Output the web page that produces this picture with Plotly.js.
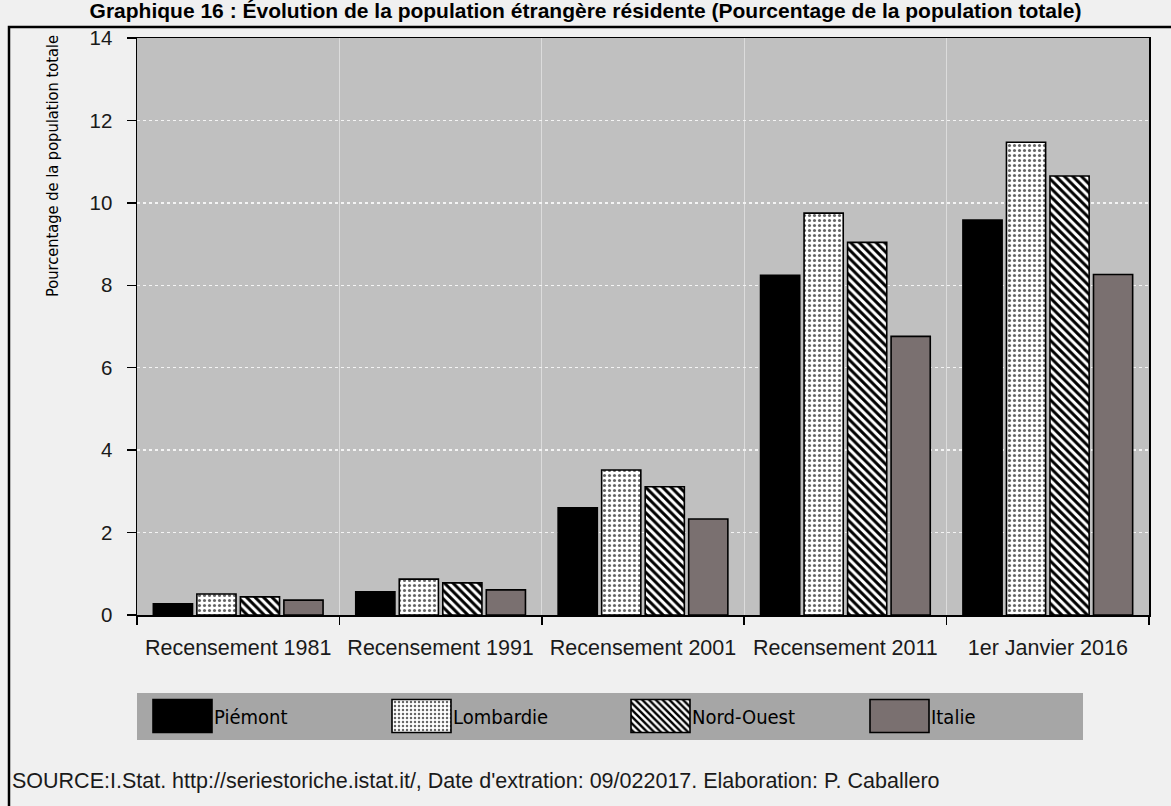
<!DOCTYPE html>
<html><head><meta charset="utf-8">
<script src="https://cdn.plot.ly/plotly-3.0.1.min.js"></script>
<style>html,body{margin:0;padding:0;background:#f0f0f0;overflow:hidden}</style>
</head><body><div id="chart" style="width:1171px;height:806px"></div>
<script>
const categories = ['Recensement 1981','Recensement 1991','Recensement 2001','Recensement 2011','1er Janvier 2016'];
const seriesNames = ['Piémont','Lombardie','Nord-Ouest','Italie'];
const piemont   = [0.27, 0.56, 2.60, 8.24, 9.58];
const lombardie = [0.51, 0.87, 3.52, 9.75, 11.47];
const nordOuest = [0.44, 0.78, 3.11, 9.04, 10.65];
const italie    = [0.36, 0.61, 2.33, 6.76, 8.26];
const yTicks = [0, 2, 4, 6, 8, 10, 12, 14];
const titleText = 'Graphique 16 : Évolution de la population étrangère résidente (Pourcentage de la population totale)';
const yTitleText = 'Pourcentage de la population totale';
const sourceText = "SOURCE:I.Stat. http://seriestoriche.istat.it/, Date d'extration: 09/022017. Elaboration: P. Caballero";

const outline = {color: '#000', width: 1.6};
const traces = [
  {type: 'bar', name: seriesNames[0], x: categories, y: piemont,
   marker: {color: '#000000', line: outline}},
  {type: 'bar', name: seriesNames[1], x: categories, y: lombardie,
   marker: {color: '#ffffff', line: outline,
     pattern: {shape: '.', fgcolor: '#666666', bgcolor: '#ffffff', size: 5, solidity: 0.3, fillmode: 'replace'}}},
  {type: 'bar', name: seriesNames[2], x: categories, y: nordOuest,
   marker: {color: '#ffffff', line: outline,
     pattern: {shape: '\\', fgcolor: '#000000', bgcolor: '#ffffff', size: 6, solidity: 0.5, fillmode: 'replace'}}},
  {type: 'bar', name: seriesNames[3], x: categories, y: italie,
   marker: {color: '#7a7070', line: outline}}
];

const W = 1171, H = 806, L = 137, R = 22, T = 38, B = 191;
const pw = W - L - R, ph = H - T - B;
const px = v => (v - L) / pw;
const py = v => (H - B - v) / ph;

const narrow = 'DejaVu Sans Condensed, Liberation Sans Narrow, Arial Narrow, Arial, sans-serif';
const arial = 'Arial, Liberation Sans, sans-serif';

const layout = {
  width: W, height: H,
  margin: {l: L, r: R, t: T, b: B, pad: 0},
  paper_bgcolor: '#f0f0f0',
  plot_bgcolor: '#c0c0c0',
  barmode: 'group',
  bargap: 0.14,
  bargroupgap: 0.1,
  showlegend: true,
  title: {text: '<b>' + titleText + '</b>', x: 0.5, xanchor: 'center', xref: 'container',
          y: 1 - 3 / H, yanchor: 'top', yref: 'container',
          font: {family: arial, size: 21, color: '#000'}},
  xaxis: {
    type: 'category', tickson: 'boundaries', ticks: 'outside', ticklen: 8, tickwidth: 1.5, tickcolor: '#000',
    showline: true, linecolor: '#000', linewidth: 1.5, mirror: true,
    showgrid: true, gridcolor: '#dcdcdc', gridwidth: 1.2,
    ticklabelstandoff: 13,
    tickfont: {family: arial, size: 21.5, color: '#1a1a1a'}
  },
  yaxis: {
    range: [0, 14], tickvals: yTicks, ticktext: yTicks.map(String),
    ticks: 'outside', ticklen: 9, tickwidth: 1.5, tickcolor: '#000',
    showline: true, linecolor: '#000', linewidth: 1.5, mirror: true,
    showgrid: true, gridcolor: '#f4f4f4', gridwidth: 1.5, griddash: 'dot', zeroline: false,
    ticklabelstandoff: 10,
    tickfont: {family: arial, size: 20.5, color: '#1a1a1a'}
  },
  legend: {
    orientation: 'h', x: px(174), xanchor: 'left', y: py(716), yanchor: 'middle',
    bgcolor: 'rgba(0,0,0,0)', borderwidth: 0,
    entrywidth: 194, entrywidthmode: 'pixels',
    font: {family: narrow, size: 20, color: '#000'}
  },
  shapes: [
    {type: 'rect', xref: 'paper', yref: 'paper', x0: 0, x1: px(1083), y0: py(740), y1: py(693),
     fillcolor: '#a6a6a6', line: {width: 0}, layer: 'below'},
    {type: 'rect', xref: 'paper', yref: 'paper', x0: px(9), x1: px(1190), y0: py(830), y1: py(27),
     fillcolor: 'rgba(0,0,0,0)', line: {color: '#000', width: 2.5}, layer: 'below'}
  ],
  annotations: [
    {text: yTitleText, xref: 'paper', yref: 'paper', x: px(52), y: py(166), xanchor: 'center', yanchor: 'middle',
     textangle: -90, showarrow: false, font: {family: narrow, size: 16.3, color: '#000'}},
    {text: sourceText, xref: 'paper', yref: 'paper', x: px(10), y: py(781), xanchor: 'left', yanchor: 'middle',
     showarrow: false, font: {family: arial, size: 21.5, color: '#1a1a1a'}}
  ]
};

Plotly.newPlot('chart', traces, layout, {displayModeBar: false, staticPlot: true}).then(gd => {
  // enlarge legend swatches to match the reference's big squares
  gd.querySelectorAll('.legend .legendpoints path').forEach(p => {
    p.setAttribute('d', 'M-41,-16.5H18V16.5H-41Z');
    p.style.strokeWidth = '1.6px';
    p.style.stroke = '#000';
  });
  gd.querySelectorAll('.legend .scrollbox, .legend [clip-path]').forEach(el => el.removeAttribute('clip-path'));
});
</script>
</body></html>
